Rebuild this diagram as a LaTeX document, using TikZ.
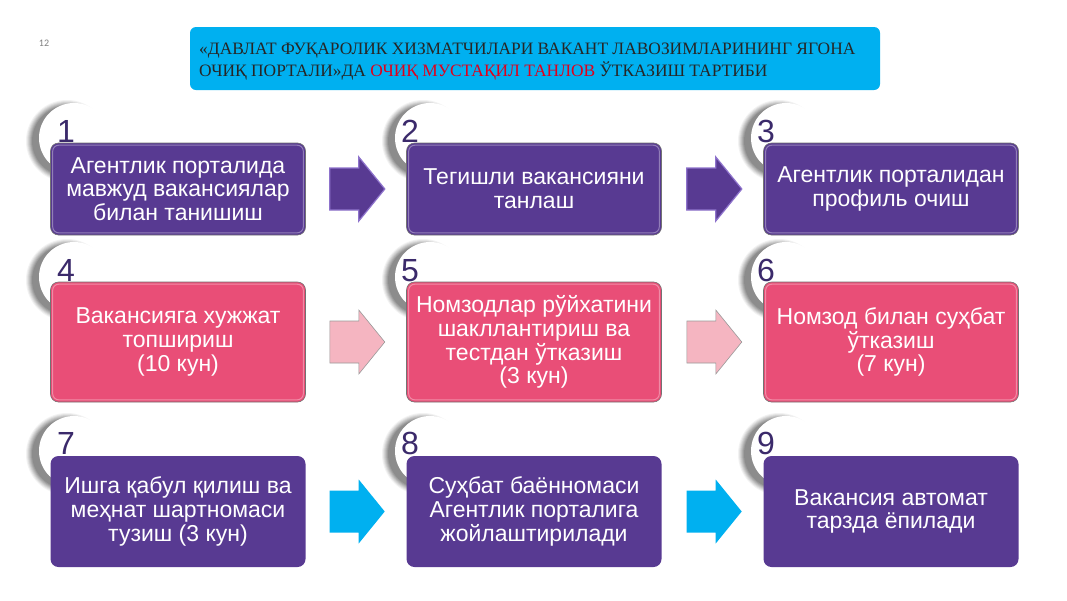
\documentclass[tikz,border=0pt]{standalone}
\usepackage{fontspec}
\setmainfont{Liberation Sans}
\newfontfamily\hdrfont{Liberation Serif}
\newfontfamily\pgfont{Carlito}
\usetikzlibrary{calc}
\definecolor{vpurple}{HTML}{583A92}
\definecolor{vpink}{HTML}{E94E77}
\definecolor{lpink}{HTML}{F5B5C1}
\definecolor{vcyan}{HTML}{00B0F0}
\definecolor{numcol}{HTML}{3B2A6B}
\definecolor{lav}{HTML}{8E73CC}
\definecolor{hdrred}{HTML}{E0001B}
\begin{document}
\begin{tikzpicture}[x=1pt,y=-1pt,
  box/.style={rounded corners=8pt, text=white, align=center,
    font=\fontsize{23}{23.8}\selectfont, inner sep=0pt,
    minimum width=255pt},
  bevel/.style={draw=black!55, line width=0.6pt},
  numlbl/.style={text=numcol, font=\fontsize{32}{32}\selectfont, inner sep=0pt, anchor=base west},
  hdrtxt/.style={font=\hdrfont\fontsize{17.4}{17.4}\selectfont, text=black!85, inner sep=0pt, anchor=base west},
  barrow/.pic={\path[pic actions] (0,-21) -- (29,-21) -- (29,-32) -- (55,0) -- (29,32) -- (29,21) -- (0,21) -- cycle;},
  circshadow/.pic={
    \foreach \r/\o in {41/0.05,40/0.06,39/0.07,38/0.08,37/0.09,36/0.10,35/0.10}{\fill[black,opacity=\o] (-7,3) circle (\r);}
    \fill[white] (0,0) circle (35);}
]
\useasboundingbox (0,0) rectangle (1067,600);
\fill[white] (0,0) rectangle (1067,600);

% page number
\node[text=black!50, font=\pgfont\fontsize{10}{10}\selectfont] (pg) at (44,43) {12};

% header
\node[fill=vcyan, rounded corners=6pt, minimum width=690pt, minimum height=63pt, inner sep=0pt] (hdr) at (535,58.5) {};
\node[hdrtxt] (h1) at (199,54) {«ДАВЛАТ ФУҚАРОЛИК ХИЗМАТЧИЛАРИ ВАКАНТ ЛАВОЗИМЛАРИНИНГ ЯГОНА};
\node[hdrtxt] (h2) at (199,76) {ОЧИҚ ПОРТАЛИ»ДА \textcolor{hdrred}{ОЧИҚ МУСТАҚИЛ ТАНЛОВ} ЎТКАЗИШ ТАРТИБИ};

% number circles
\foreach \cx in {74,430,786}{
  \foreach \cy in {138,277,451}{
    \pic at (\cx,\cy) {circshadow};
  }
}

% numbers
\node[numlbl] (n1) at (57,142) {1};
\node[numlbl] (n2) at (401,142) {2};
\node[numlbl] (n3) at (757,142) {3};
\node[numlbl] (n4) at (57,281) {4};
\node[numlbl] (n5) at (401,281) {5};
\node[numlbl] (n6) at (757,281) {6};
\node[numlbl] (n7) at (57,454) {7};
\node[numlbl] (n8) at (401,454) {8};
\node[numlbl] (n9) at (757,454) {9};

% row 1
\node[box, fill=vpurple, bevel, minimum height=92pt] (b1) at (178,189) {Агентлик порталида\\мавжуд вакансиялар\\билан танишиш};
\node[box, fill=vpurple, bevel, minimum height=92pt] (b2) at (534,189) {Тегишли вакансияни\\танлаш};
\node[box, fill=vpurple, bevel, minimum height=92pt] (b3) at (891,189) {Агентлик порталидан\\профиль очиш};

% row 2
\node[box, fill=vpink, bevel, minimum height=120pt] (b4) at (178,342) {Вакансияга хужжат\\топшириш\\(10 кун)};
\node[box, fill=vpink, bevel, minimum height=120pt] (b5) at (534,342) {Номзодлар рўйхатини\\шакллантириш ва\\тестдан ўтказиш\\(3 кун)};
\node[box, fill=vpink, bevel, minimum height=120pt] (b6) at (891,342) {Номзод билан суҳбат\\ўтказиш\\(7 кун)};

% row 3
\node[box, fill=vpurple, minimum height=111pt] (b7) at (178,511.5) {Ишга қабул қилиш ва\\меҳнат шартномаси\\тузиш (3 кун)};
\node[box, fill=vpurple, minimum height=111pt] (b8) at (534,511.5) {Суҳбат баённомаси\\Агентлик порталига\\жойлаштирилади};
\node[box, fill=vpurple, minimum height=111pt] (b9) at (891,511.5) {Вакансия автомат\\тарзда ёпилади};

% bevel highlights
\foreach \b in {b1,b2,b3,b4,b5,b6}{
  \draw[white, opacity=0.35, line width=1pt, rounded corners=6pt]
    ([shift={(2.5,2.5)}]\b.north west) rectangle ([shift={(-2.5,-2.5)}]\b.south east);
}

% arrows
\pic[fill=vpurple, draw=lav, line width=1.2pt] at ($(b1.east)+(24,0)$) {barrow};
\pic[fill=vpurple, draw=lav, line width=1.2pt] at ($(b2.east)+(25,0)$) {barrow};
\pic[fill=lpink, draw=black!40, line width=0.6pt] at ($(b4.east)+(24,0)$) {barrow};
\pic[fill=lpink, draw=black!40, line width=0.6pt] at ($(b5.east)+(25,0)$) {barrow};
\pic[fill=vcyan] at ($(b7.east)+(24,0)$) {barrow};
\pic[fill=vcyan] at ($(b8.east)+(25,0)$) {barrow};
\end{tikzpicture}
\end{document}
